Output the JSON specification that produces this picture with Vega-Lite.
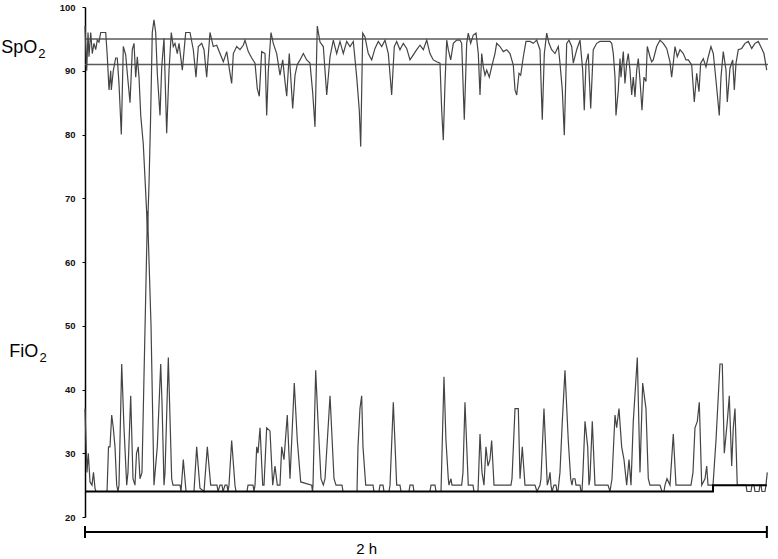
{
"$schema": "https://vega.github.io/schema/vega-lite/v6.json",
"width": 683, "height": 510,
"autosize": "none",
"padding": {"left": 85, "top": 7, "right": 10, "bottom": 42},
"background": "white",
"config": {"view": {"stroke": null}, "font": "Liberation Sans"},
"datasets": {
"spo2": [{"t":0,"v":97},{"t":0.30,"v":90},{"t":0.53,"v":96},{"t":0.70,"v":92.2},{"t":1.00,"v":96},{"t":1.28,"v":92.7},{"t":1.58,"v":94.3},{"t":1.88,"v":93.3},{"t":2.16,"v":94.8},{"t":2.46,"v":94.5},{"t":2.76,"v":96},{"t":3.64,"v":96},{"t":3.92,"v":92.2},{"t":4.22,"v":87},{"t":4.52,"v":90},{"t":4.62,"v":87},{"t":4.97,"v":90},{"t":5.39,"v":92},{"t":5.67,"v":92},{"t":5.97,"v":88},{"t":6.38,"v":80},{"t":6.73,"v":93.8},{"t":7.15,"v":92.5},{"t":7.43,"v":89.6},{"t":7.91,"v":85},{"t":8.31,"v":93.3},{"t":8.61,"v":94.3},{"t":8.91,"v":89},{"t":9.19,"v":92.2},{"t":9.49,"v":89},{"t":9.79,"v":83},{"t":10.24,"v":78.5},{"t":10.66,"v":71},{"t":10.98,"v":65},{"t":11.24,"v":72},{"t":11.51,"v":82},{"t":11.82,"v":96},{"t":12.12,"v":98},{"t":12.42,"v":96},{"t":12.70,"v":89.6},{"t":13.18,"v":83},{"t":13.48,"v":90.6},{"t":13.88,"v":95.1},{"t":14.35,"v":80.2},{"t":14.76,"v":90},{"t":15.16,"v":96},{"t":15.51,"v":93.8},{"t":15.81,"v":94.3},{"t":16.22,"v":92.7},{"t":16.52,"v":94.3},{"t":17.10,"v":90.1},{"t":17.69,"v":96},{"t":18.45,"v":96},{"t":19.03,"v":93.3},{"t":19.50,"v":89},{"t":19.91,"v":93.8},{"t":20.50,"v":94.3},{"t":20.91,"v":93.3},{"t":21.38,"v":89},{"t":21.96,"v":96},{"t":22.54,"v":93.8},{"t":23.14,"v":94},{"t":23.72,"v":92.7},{"t":24.30,"v":91.4},{"t":24.90,"v":93},{"t":25.48,"v":89.6},{"t":25.77,"v":88},{"t":26.06,"v":92.7},{"t":26.65,"v":93.8},{"t":27.23,"v":93.3},{"t":27.81,"v":94},{"t":28.11,"v":94.8},{"t":28.69,"v":93},{"t":29.29,"v":92},{"t":29.87,"v":91.2},{"t":30.27,"v":87.2},{"t":30.62,"v":86},{"t":31.04,"v":93},{"t":31.63,"v":92.7},{"t":31.92,"v":83},{"t":32.21,"v":90},{"t":32.68,"v":96},{"t":33.08,"v":94.3},{"t":33.68,"v":92.7},{"t":34.26,"v":89.3},{"t":34.74,"v":91.7},{"t":35.14,"v":88.3},{"t":35.44,"v":86},{"t":35.89,"v":92.7},{"t":36.49,"v":84.1},{"t":36.90,"v":89.3},{"t":37.30,"v":91},{"t":37.78,"v":91.7},{"t":38.36,"v":92.7},{"t":38.95,"v":91.7},{"t":39.53,"v":91.2},{"t":40.01,"v":86.5},{"t":40.41,"v":81.2},{"t":40.81,"v":97},{"t":41.29,"v":94.5},{"t":41.87,"v":93.8},{"t":42.47,"v":86.2},{"t":43.05,"v":92.2},{"t":43.63,"v":94.8},{"t":44.22,"v":92.7},{"t":44.80,"v":94.6},{"t":45.38,"v":92.7},{"t":45.98,"v":94.6},{"t":46.56,"v":93.8},{"t":47.14,"v":94.6},{"t":47.74,"v":89},{"t":48.19,"v":83.8},{"t":48.44,"v":78.1},{"t":48.79,"v":95.9},{"t":49.19,"v":95.3},{"t":49.77,"v":92.7},{"t":50.37,"v":91.7},{"t":50.95,"v":93.5},{"t":51.53,"v":94.6},{"t":52.13,"v":93.8},{"t":52.71,"v":94.8},{"t":53.29,"v":92.7},{"t":53.88,"v":86.2},{"t":54.34,"v":93.8},{"t":54.76,"v":94.6},{"t":55.34,"v":93.3},{"t":55.92,"v":94.3},{"t":56.52,"v":93.5},{"t":57.10,"v":91.7},{"t":57.68,"v":92.5},{"t":58.28,"v":93.3},{"t":58.86,"v":94},{"t":59.44,"v":93.3},{"t":60.04,"v":94.8},{"t":60.61,"v":92.7},{"t":61.19,"v":91.7},{"t":61.79,"v":91.4},{"t":62.37,"v":91.2},{"t":62.67,"v":83.8},{"t":62.95,"v":79.1},{"t":63.25,"v":88},{"t":63.55,"v":94.8},{"t":63.83,"v":93.3},{"t":64.25,"v":91.7},{"t":64.71,"v":94.3},{"t":65.31,"v":94.8},{"t":65.88,"v":94.8},{"t":66.18,"v":94.3},{"t":66.64,"v":82.3},{"t":67.06,"v":94.3},{"t":67.34,"v":95.9},{"t":67.76,"v":94.3},{"t":68.22,"v":95.6},{"t":68.70,"v":95.9},{"t":69.10,"v":92.7},{"t":69.40,"v":86.2},{"t":69.70,"v":92.7},{"t":69.98,"v":90.6},{"t":70.28,"v":89.3},{"t":70.58,"v":90.1},{"t":71.03,"v":89},{"t":71.45,"v":90.6},{"t":72.03,"v":92.7},{"t":72.33,"v":94.3},{"t":72.91,"v":93.8},{"t":73.49,"v":93},{"t":74.09,"v":93.3},{"t":74.67,"v":92.7},{"t":75.25,"v":90.9},{"t":75.55,"v":87},{"t":75.85,"v":86.2},{"t":76.25,"v":89.6},{"t":76.55,"v":89.3},{"t":77.01,"v":92.2},{"t":77.48,"v":94.6},{"t":78.18,"v":94.6},{"t":78.76,"v":94.3},{"t":79.36,"v":94.8},{"t":79.94,"v":93.3},{"t":80.34,"v":82.3},{"t":80.70,"v":92.7},{"t":81.12,"v":95.9},{"t":81.52,"v":94.3},{"t":81.99,"v":93.3},{"t":82.58,"v":92.7},{"t":83.16,"v":93.8},{"t":83.45,"v":91.2},{"t":83.86,"v":87},{"t":84.21,"v":79.9},{"t":84.63,"v":94.3},{"t":85.03,"v":94.8},{"t":85.51,"v":93.8},{"t":85.79,"v":91.2},{"t":86.39,"v":93.3},{"t":86.97,"v":94.8},{"t":87.44,"v":90.1},{"t":87.72,"v":83.8},{"t":88.02,"v":91.2},{"t":88.42,"v":92.7},{"t":88.85,"v":84.1},{"t":89.30,"v":93.3},{"t":89.90,"v":94.3},{"t":90.48,"v":94.6},{"t":91.36,"v":94.6},{"t":92.24,"v":94.6},{"t":92.54,"v":94.3},{"t":92.82,"v":92.7},{"t":93.12,"v":89},{"t":93.29,"v":83},{"t":93.70,"v":87},{"t":94.00,"v":91.9},{"t":94.17,"v":89},{"t":94.58,"v":93},{"t":94.87,"v":88},{"t":95.17,"v":91.2},{"t":95.45,"v":92.7},{"t":95.75,"v":90.1},{"t":96.05,"v":86.2},{"t":96.33,"v":89},{"t":96.63,"v":85.9},{"t":96.93,"v":90.1},{"t":97.21,"v":91.9},{"t":97.51,"v":88.5},{"t":97.86,"v":83.8},{"t":98.21,"v":89},{"t":98.56,"v":88.3},{"t":98.79,"v":93.8},{"t":99.26,"v":92.2},{"t":99.56,"v":91.4},{"t":99.84,"v":91.7},{"t":100.44,"v":93.8},{"t":101.02,"v":94.8},{"t":101.60,"v":94.3},{"t":102.20,"v":93.5},{"t":102.78,"v":91.4},{"t":103.07,"v":89},{"t":103.36,"v":91.2},{"t":103.66,"v":93.8},{"t":104.06,"v":92.2},{"t":104.54,"v":93.3},{"t":105.12,"v":92.7},{"t":105.59,"v":91.7},{"t":106.00,"v":91.7},{"t":106.59,"v":90.9},{"t":107.05,"v":85.1},{"t":107.47,"v":89.6},{"t":107.87,"v":86.7},{"t":108.17,"v":91.2},{"t":108.63,"v":91.9},{"t":109.10,"v":90.6},{"t":109.51,"v":92.2},{"t":109.98,"v":93.8},{"t":110.39,"v":92.7},{"t":110.86,"v":88.5},{"t":111.44,"v":83},{"t":111.74,"v":89},{"t":112.14,"v":93},{"t":112.62,"v":90.1},{"t":112.85,"v":85.1},{"t":113.32,"v":90.4},{"t":113.80,"v":91.7},{"t":114.08,"v":87},{"t":114.38,"v":91.2},{"t":114.78,"v":93.3},{"t":115.38,"v":93.5},{"t":115.96,"v":94.3},{"t":116.54,"v":94.6},{"t":117.14,"v":93.5},{"t":117.71,"v":94.3},{"t":118.29,"v":94.6},{"t":118.89,"v":93.5},{"t":119.29,"v":92.7},{"t":119.77,"v":90.1}],
"fio2": [{"t":0,"v":37},{"t":0.35,"v":27},{"t":0.58,"v":30},{"t":0.88,"v":25.5},{"t":1.23,"v":25},{"t":1.49,"v":27},{"t":1.76,"v":24.5},{"t":1.93,"v":24},{"t":3.87,"v":24},{"t":4.13,"v":31},{"t":4.39,"v":31},{"t":4.69,"v":36},{"t":4.97,"v":34},{"t":5.27,"v":31},{"t":5.57,"v":25},{"t":5.80,"v":24},{"t":5.97,"v":25},{"t":6.45,"v":44},{"t":6.85,"v":34},{"t":7.33,"v":25},{"t":7.55,"v":27},{"t":8.03,"v":39},{"t":8.43,"v":26},{"t":8.78,"v":25},{"t":9.05,"v":30},{"t":9.36,"v":31},{"t":9.66,"v":26},{"t":10.01,"v":27},{"t":10.98,"v":68},{"t":11.60,"v":50},{"t":12.12,"v":25},{"t":12.70,"v":31},{"t":13.30,"v":44},{"t":13.53,"v":38},{"t":13.88,"v":25},{"t":14.06,"v":27},{"t":14.64,"v":45},{"t":15.23,"v":26},{"t":15.46,"v":25},{"t":16.69,"v":25},{"t":16.87,"v":24},{"t":17.27,"v":29},{"t":17.75,"v":24},{"t":19.15,"v":24},{"t":19.62,"v":31},{"t":20.20,"v":24.5},{"t":20.91,"v":24},{"t":21.49,"v":31},{"t":22.08,"v":25},{"t":23.19,"v":25},{"t":23.37,"v":24},{"t":23.72,"v":25},{"t":24.07,"v":25},{"t":24.25,"v":24},{"t":24.60,"v":25},{"t":24.95,"v":25},{"t":25.12,"v":24},{"t":25.30,"v":25},{"t":25.77,"v":32},{"t":26.35,"v":25},{"t":26.53,"v":24},{"t":28.46,"v":24},{"t":28.64,"v":25},{"t":29.52,"v":25},{"t":29.69,"v":24},{"t":29.87,"v":25},{"t":30.17,"v":31},{"t":30.40,"v":30},{"t":30.75,"v":34},{"t":31.22,"v":25},{"t":31.45,"v":25},{"t":31.92,"v":34},{"t":32.50,"v":33.5},{"t":32.98,"v":25},{"t":33.38,"v":28},{"t":33.79,"v":25},{"t":34.26,"v":25},{"t":34.56,"v":31},{"t":34.96,"v":29},{"t":35.54,"v":36},{"t":36.02,"v":26},{"t":36.77,"v":41},{"t":37.30,"v":32},{"t":37.90,"v":25.5},{"t":39.83,"v":25},{"t":39.97,"v":24},{"t":40.06,"v":25},{"t":40.53,"v":43},{"t":40.94,"v":35},{"t":41.46,"v":26},{"t":41.87,"v":25},{"t":42.17,"v":26},{"t":43.05,"v":39},{"t":43.75,"v":26},{"t":44.10,"v":25},{"t":45.15,"v":25},{"t":45.33,"v":24},{"t":47.79,"v":24},{"t":47.96,"v":31},{"t":48.31,"v":37},{"t":48.61,"v":39},{"t":48.84,"v":31},{"t":49.32,"v":25},{"t":50.07,"v":25},{"t":50.60,"v":25},{"t":50.77,"v":24},{"t":51.65,"v":24},{"t":51.83,"v":25},{"t":52.36,"v":25},{"t":52.53,"v":24},{"t":53.41,"v":24},{"t":53.59,"v":25},{"t":54.17,"v":38},{"t":54.76,"v":25},{"t":55.34,"v":25},{"t":55.52,"v":24},{"t":56.92,"v":24},{"t":57.10,"v":25},{"t":57.63,"v":25},{"t":57.80,"v":24},{"t":60.61,"v":24},{"t":60.79,"v":25},{"t":61.49,"v":25},{"t":61.67,"v":24},{"t":62.55,"v":24},{"t":63.07,"v":42},{"t":63.42,"v":32},{"t":63.83,"v":26},{"t":63.95,"v":25},{"t":64.30,"v":26},{"t":64.48,"v":25},{"t":66.18,"v":25},{"t":66.41,"v":27},{"t":66.76,"v":38},{"t":67.34,"v":25},{"t":68.17,"v":25},{"t":68.34,"v":24},{"t":69.05,"v":24},{"t":69.40,"v":33},{"t":69.75,"v":27},{"t":70.10,"v":25},{"t":70.45,"v":31},{"t":70.80,"v":28},{"t":71.15,"v":29},{"t":71.45,"v":32},{"t":71.86,"v":25},{"t":74.84,"v":25},{"t":75.02,"v":26},{"t":75.55,"v":37},{"t":76.13,"v":37},{"t":76.43,"v":26},{"t":76.83,"v":31},{"t":77.30,"v":25},{"t":79.06,"v":25},{"t":79.41,"v":24},{"t":79.94,"v":25},{"t":80.11,"v":26},{"t":80.64,"v":37},{"t":81.22,"v":25},{"t":81.52,"v":26},{"t":81.70,"v":27},{"t":81.87,"v":25},{"t":82.05,"v":24},{"t":82.40,"v":25},{"t":82.75,"v":25},{"t":82.93,"v":24},{"t":83.10,"v":24},{"t":83.45,"v":27},{"t":83.86,"v":35},{"t":84.33,"v":43},{"t":84.91,"v":32},{"t":85.33,"v":26},{"t":85.56,"v":25},{"t":85.74,"v":26},{"t":86.09,"v":26},{"t":86.26,"v":25},{"t":86.97,"v":25},{"t":87.14,"v":24},{"t":87.32,"v":24},{"t":87.49,"v":27},{"t":87.85,"v":35},{"t":88.32,"v":31},{"t":88.55,"v":25},{"t":88.72,"v":26},{"t":89.13,"v":35},{"t":89.60,"v":25},{"t":91.89,"v":25},{"t":92.24,"v":24},{"t":92.59,"v":26},{"t":93.12,"v":36},{"t":93.41,"v":34},{"t":93.82,"v":37},{"t":94.29,"v":31},{"t":94.70,"v":29},{"t":95.17,"v":25},{"t":95.58,"v":29},{"t":95.93,"v":25},{"t":96.33,"v":35},{"t":97.04,"v":45},{"t":97.51,"v":27},{"t":97.98,"v":41},{"t":98.56,"v":37},{"t":98.97,"v":26},{"t":99.26,"v":25},{"t":101.02,"v":25},{"t":101.37,"v":24},{"t":101.72,"v":24},{"t":101.90,"v":25},{"t":102.25,"v":26},{"t":102.78,"v":25},{"t":103.36,"v":33},{"t":103.83,"v":25},{"t":106.47,"v":25},{"t":106.82,"v":27},{"t":107.17,"v":34},{"t":107.58,"v":35},{"t":107.93,"v":38},{"t":108.35,"v":25},{"t":108.93,"v":26},{"t":109.23,"v":28},{"t":109.46,"v":25},{"t":110.34,"v":25},{"t":110.86,"v":32},{"t":111.56,"v":44},{"t":111.97,"v":44},{"t":112.32,"v":30},{"t":112.85,"v":35},{"t":113.20,"v":39},{"t":113.62,"v":28},{"t":113.90,"v":34},{"t":114.20,"v":37},{"t":114.60,"v":25},{"t":116.13,"v":25},{"t":116.31,"v":24},{"t":117.01,"v":24},{"t":117.19,"v":25},{"t":117.54,"v":25},{"t":117.71,"v":24},{"t":118.42,"v":24},{"t":118.59,"v":25},{"t":118.77,"v":25},{"t":118.94,"v":24},{"t":119.47,"v":24},{"t":119.64,"v":25},{"t":119.87,"v":27}],
"base": [{"t":0,"v":24},{"t":110.34,"v":24},{"t":110.34,"v":25},{"t":119.8,"v":25}],
"target": [{"v":95},{"v":91}],
"span": [{"start":0,"end":119.8,"label":"2 h"}],
"ends": [{"t":0},{"t":119.8}]
},
"layer": [
{"data": {"name": "target"}, "mark": {"type": "rule", "color": "#5a5a5a", "strokeWidth": 1.5},
 "encoding": {"y": {"field": "v", "type": "quantitative", "scale": {"domain": [20, 100], "nice": false, "zero": false},
   "axis": {"values": [20,30,40,50,60,70,80,90,100], "grid": false, "title": null, "domainColor": "#000", "domainWidth": 1.5, "tickColor": "#000", "tickSize": 3, "tickWidth": 1, "labelFont": "Liberation Sans", "labelFontWeight": "bold", "labelFontSize": 9.5, "labelColor": "#111", "labelPadding": 7}}}},
{"data": {"name": "spo2"}, "mark": {"type": "line", "color": "#444444", "strokeWidth": 1.2},
 "encoding": {"x": {"field": "t", "type": "quantitative", "scale": {"domain": [0, 120], "nice": false, "zero": false}, "axis": null},
   "y": {"field": "v", "type": "quantitative"}}},
{"data": {"name": "fio2"}, "mark": {"type": "line", "color": "#444444", "strokeWidth": 1.2},
 "encoding": {"x": {"field": "t", "type": "quantitative"}, "y": {"field": "v", "type": "quantitative"}}},
{"data": {"name": "base"}, "mark": {"type": "line", "color": "#000", "strokeWidth": 2},
 "encoding": {"x": {"field": "t", "type": "quantitative"}, "y": {"field": "v", "type": "quantitative"}}},
{"data": {"name": "span"}, "mark": {"type": "rule", "color": "#000", "strokeWidth": 2.2},
 "encoding": {"x": {"field": "start", "type": "quantitative"}, "x2": {"field": "end"}, "y": {"datum": 17.65, "type": "quantitative"}}},
{"data": {"name": "ends"}, "mark": {"type": "rule", "color": "#000", "strokeWidth": 2},
 "encoding": {"x": {"field": "t", "type": "quantitative"}, "y": {"datum": 16.7, "type": "quantitative"}, "y2": {"datum": 18.6}}},
{"data": {"name": "span"}, "mark": {"type": "text", "font": "Liberation Sans", "fontSize": 15, "color": "#000", "baseline": "middle", "align": "center"},
 "encoding": {"x": {"datum": 49.5, "type": "quantitative"}, "y": {"datum": 15.0, "type": "quantitative"}, "text": {"field": "label"}}},
{"data": {"values": [{"label": "SpO"}]}, "mark": {"type": "text", "font": "Liberation Sans", "fontSize": 18, "color": "#000", "baseline": "alphabetic", "align": "right"},
 "encoding": {"x": {"datum": -8.4, "type": "quantitative"}, "y": {"datum": 92.8, "type": "quantitative"}, "text": {"field": "label"}}},
{"data": {"values": [{"label": "2"}]}, "mark": {"type": "text", "font": "Liberation Sans", "fontSize": 13, "color": "#000", "baseline": "alphabetic", "align": "left"},
 "encoding": {"x": {"datum": -8.2, "type": "quantitative"}, "y": {"datum": 92.0, "type": "quantitative"}, "text": {"field": "label"}}},
{"data": {"values": [{"label": "FiO"}]}, "mark": {"type": "text", "font": "Liberation Sans", "fontSize": 18, "color": "#000", "baseline": "alphabetic", "align": "right"},
 "encoding": {"x": {"datum": -8.2, "type": "quantitative"}, "y": {"datum": 45.1, "type": "quantitative"}, "text": {"field": "label"}}},
{"data": {"values": [{"label": "2"}]}, "mark": {"type": "text", "font": "Liberation Sans", "fontSize": 13, "color": "#000", "baseline": "alphabetic", "align": "left"},
 "encoding": {"x": {"datum": -8.0, "type": "quantitative"}, "y": {"datum": 44.3, "type": "quantitative"}, "text": {"field": "label"}}}
]
}
